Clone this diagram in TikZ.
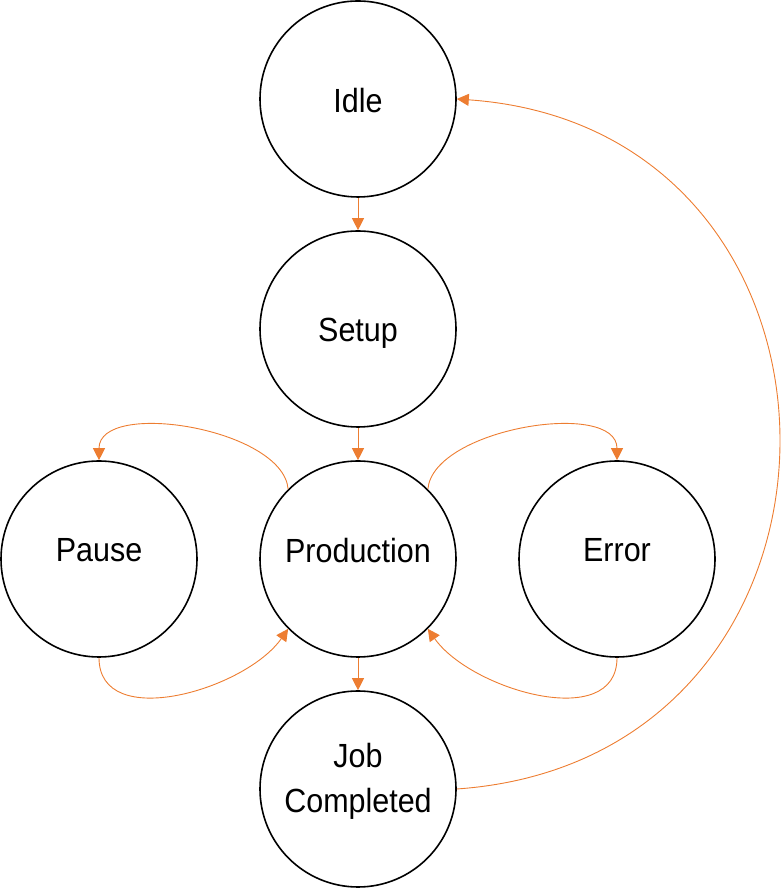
\documentclass[tikz,border=0pt]{standalone}
\usepackage{fontspec}
\setmainfont{Liberation Sans}[FakeStretch=0.91]
\usetikzlibrary{arrows.meta}
\definecolor{accent}{HTML}{ED7D31}
\begin{document}
\begin{tikzpicture}[x=1pt,y=1pt,
  state/.style={circle,draw=black,line width=1.6pt,minimum size=196pt,inner sep=0pt},
  txt/.style={anchor=base,inner sep=0pt,font=\fontsize{33.5}{45}\selectfont},
  conn/.style={draw=accent,line width=0.9pt,-{Triangle[length=12pt,width=12pt]}},
]
\useasboundingbox (0,0) rectangle (780,890);
\node[state] (idle) at (358,791) {};
\node[state] (setup) at (358,561) {};
\node[state] (prod) at (358,331) {};
\node[state] (pause) at (99,331) {};
\node[state] (error) at (617,331) {};
\node[state] (job) at (358,101) {};
\node[txt] (idlet) at (358,777) {Idle};
\node[txt] (setupt) at (358,548) {Setup};
\node[txt] (prodt) at (358,327) {Production};
\node[txt] (pauset) at (99,328) {Pause};
\node[txt] (errort) at (617,328) {Error};
\node[txt] (jobt1) at (358,122) {Job};
\node[txt] (jobt2) at (358,77) {Completed};
\draw[conn] (idle.south) -- (setup.north);
\draw[conn] (setup.south) -- (prod.north);
\draw[conn] (prod.south) -- (job.north);
\draw[conn] (prod.135) to[out=95,in=90,looseness=0.82] (pause.north);
\draw[conn] (prod.45) to[out=85,in=90,looseness=0.82] (error.north);
\draw[conn] (pause.south) to[out=-90,in=-125,looseness=1.0] (prod.225);
\draw[conn] (error.south) to[out=-90,in=-55,looseness=1.0] (prod.-45);
\draw[conn] (job.east) .. controls +(4:430) and +(-4:430) .. (idle.east);
\end{tikzpicture}
\end{document}
